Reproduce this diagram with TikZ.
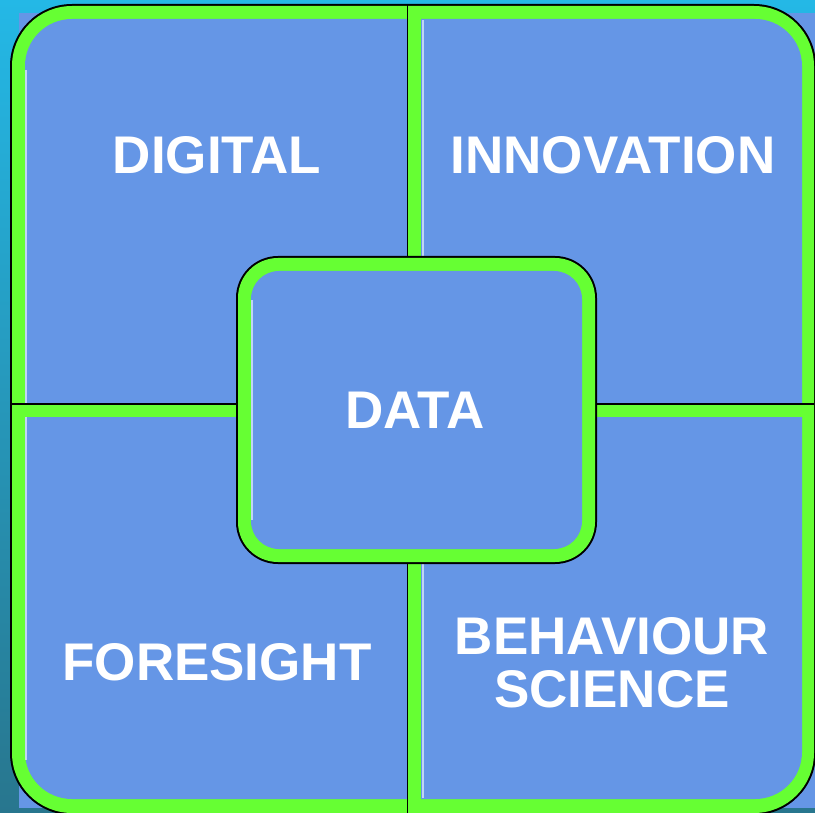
\documentclass[tikz,border=0pt]{standalone}
\usepackage{fontspec}
\setmainfont{Liberation Sans}
\usepackage{tikz}

\definecolor{tileblue}{RGB}{101,150,230}
\definecolor{rimgreen}{RGB}{102,255,51}
\definecolor{skytop}{RGB}{36,184,230}
\definecolor{skymid}{RGB}{160,218,204}
\definecolor{skybot}{RGB}{40,118,142}

\tikzset{
  label/.style={text=white, font=\bfseries\fontsize{53}{53}\selectfont, align=center, inner sep=0pt},
}

\begin{document}
\begin{tikzpicture}[x=1pt, y=-1pt]
\useasboundingbox (0,0) rectangle (815,813);

% Draw background.
\shade[top color=skytop, middle color=skymid, bottom color=skybot] (0,0) rectangle (815,813);
\fill[tileblue] (19,13) rectangle (815,808);

% Draw outer frame.
\fill[black, rounded corners=62] (10,4) rectangle (816,815);
\fill[rimgreen, rounded corners=60] (12,6) rectangle (814,813);
\fill[tileblue, rounded corners=47] (25,19) rectangle (802,799);
\draw[white, opacity=0.6, line width=2] (26,70) -- (26,760);
\draw[white, opacity=0.6, line width=2] (423,20) -- (423,798);

% Draw dividers.
\fill[rimgreen] (408,6) rectangle (421,813);
\draw[black, line width=1.5] (407.5,5) -- (407.5,813);
\fill[rimgreen] (12,404) rectangle (814,417);
\draw[black, line width=1.5] (12,404) -- (814,404);

% Draw center box.
\fill[black, rounded corners=42] (236,256) rectangle (597,564);
\fill[rimgreen, rounded corners=40] (238,258) rectangle (595,562);
\fill[tileblue, rounded corners=28] (251,271) rectangle (582,549);
\draw[white, opacity=0.6, line width=2] (252,300) -- (252,520);

% Draw labels.
\node[label] (digital) at (217,155) {DIGITAL};
\node[label] (innovation) at (613,155) {INNOVATION};
\node[label] (data) at (415,410) {DATA};
\node[label] (foresight) at (217,662) {FORESIGHT};
\node[label] (behaviour) at (612,663) {BEHAVIOUR\\SCIENCE};

\end{tikzpicture}
\end{document}
